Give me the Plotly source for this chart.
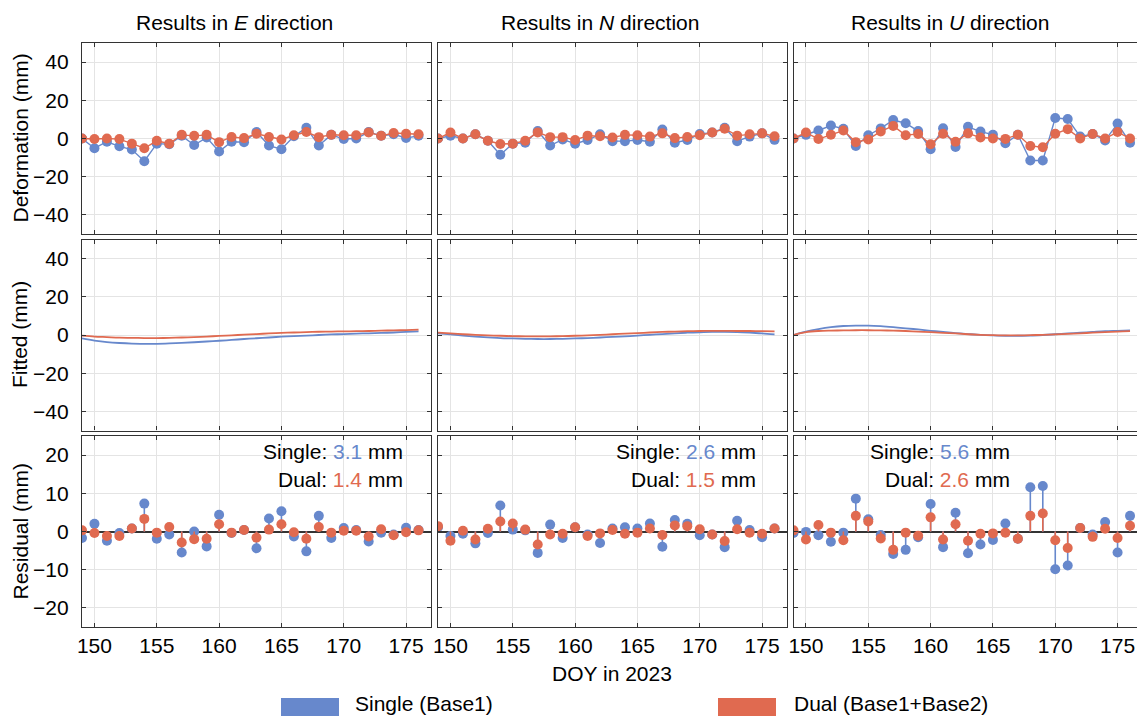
import plotly.graph_objects as go

# ---------------- data ----------------
DOY = [149, 150, 151, 152, 153, 154, 155, 156, 157, 158, 159, 160, 161, 162,
       163, 164, 165, 166, 167, 168, 169, 170, 171, 172, 173, 174, 175, 176]

DIRECTIONS = ["E", "N", "U"]
SERIES_NAMES = ["Single (Base1)", "Dual (Base1+Base2)"]

E_def_single = [0.0, -5.1, -1.7, -4.1, -5.8, -11.9, -2.7, -3.0, 1.4, -3.4, 0.5, -6.8, -1.7, -1.9,
                3.4, -3.7, -5.6, 1.2, 5.6, -3.7, 1.9, -0.3, 0.0, 3.4, 1.4, 2.2, 0.3, 1.4]
E_def_dual = [0.0, -0.3, 0.0, -0.3, -2.7, -5.1, -1.2, -2.7, 1.9, 1.4, 1.9, -1.9, 0.8, 0.2,
              2.5, 0.8, -0.5, 1.7, 3.4, 0.7, 2.0, 1.7, 1.7, 3.2, 1.4, 2.9, 2.5, 2.2]
N_def_single = [0.0, 1.4, 0.0, 2.2, -1.2, -8.5, -2.7, -2.2, 3.9, -3.7, -0.5, -2.7, -0.8, 2.2,
                -1.4, -1.4, -0.8, -1.7, 4.7, -2.2, -0.8, 2.4, 3.1, 5.6, -1.4, 1.0, 2.7, -0.7]
N_def_dual = [0.0, 3.1, 0.0, 2.2, -1.2, -2.9, -2.7, -1.2, 3.2, 0.7, 0.7, -0.8, 1.5, 1.2,
              0.5, 1.9, 1.7, 1.0, 2.7, 0.2, 0.8, 1.7, 3.1, 5.1, 1.5, 2.2, 2.7, 1.2]
U_def_single = [0.0, 1.9, 4.2, 6.8, 5.1, -3.9, 1.7, 5.3, 9.7, 8.0, 3.9, -5.6, 5.4, -4.4,
                6.1, 3.6, 2.0, -2.5, 2.0, -11.5, -11.5, 10.7, 10.2, 1.0, 2.4, -1.0, 7.8, -2.2]
U_def_dual = [0.0, 3.1, -0.3, 2.0, 4.2, -1.9, -0.5, 3.7, 6.6, 1.7, 2.4, -3.0, 2.5, -1.7,
              2.7, 0.5, 0.0, -0.2, 2.0, -3.9, -4.6, 2.5, 4.9, 0.0, 2.4, 0.0, 3.4, 0.0]

E_fit_single = [-1.8, -2.9, -3.7, -4.2, -4.5, -4.6, -4.6, -4.4, -4.1, -3.8, -3.4, -3.0, -2.6, -2.1,
                -1.7, -1.3, -0.9, -0.6, -0.3, 0.0, 0.3, 0.5, 0.7, 0.9, 1.1, 1.3, 1.6, 1.9]
E_fit_dual = [-0.3, -0.8, -1.1, -1.4, -1.5, -1.6, -1.6, -1.5, -1.3, -1.1, -0.8, -0.5, -0.2, 0.2,
              0.5, 0.8, 1.1, 1.3, 1.5, 1.7, 1.8, 1.9, 2.0, 2.1, 2.3, 2.4, 2.6, 2.8]
N_fit_single = [0.9, 0.3, -0.3, -0.8, -1.2, -1.6, -1.8, -2.0, -2.1, -2.1, -2.0, -1.8, -1.6, -1.3,
                -1.0, -0.7, -0.3, 0.1, 0.5, 0.9, 1.2, 1.4, 1.6, 1.6, 1.5, 1.2, 0.8, 0.3]
N_fit_dual = [1.2, 0.8, 0.4, 0.1, -0.2, -0.4, -0.6, -0.7, -0.7, -0.7, -0.6, -0.4, -0.2, 0.1,
              0.4, 0.7, 1.0, 1.3, 1.6, 1.8, 2.0, 2.1, 2.2, 2.2, 2.1, 2.1, 2.0, 1.9]
U_fit_single = [0.0, 1.8, 3.1, 4.1, 4.7, 4.9, 4.9, 4.6, 4.1, 3.5, 2.9, 2.2, 1.6, 1.0,
                0.5, 0.1, -0.2, -0.4, -0.4, -0.3, 0.0, 0.4, 0.8, 1.2, 1.6, 2.0, 2.2, 2.4]
U_fit_dual = [0.0, 1.5, 2.1, 2.3, 2.4, 2.5, 2.5, 2.4, 2.3, 2.1, 1.8, 1.5, 1.1, 0.8,
              0.4, 0.1, -0.1, -0.2, -0.2, -0.1, 0.1, 0.3, 0.6, 0.9, 1.2, 1.5, 1.8, 2.0]

E_res_single = [-1.7, 2.0, -2.4, -0.4, 0.8, 7.3, -1.9, -0.8, -5.5, 0.0, -3.9, 4.4, -0.4, 0.4,
                -4.4, 3.4, 5.3, -1.3, -5.2, 4.1, -1.7, 0.9, 0.4, -2.6, -0.3, -0.8, 1.0, 0.4]
E_res_dual = [0.3, -0.4, -1.2, -1.2, 0.8, 3.3, -0.3, 1.2, -2.9, -2.0, -1.9, 1.9, -0.3, 0.4,
              -1.6, 0.5, 1.9, -0.2, -1.9, 1.2, -0.3, 0.2, 0.2, -1.3, 0.6, -1.0, -0.2, 0.3]
N_res_single = [1.1, -1.2, -0.6, -3.1, -0.4, 6.8, 0.5, 0.3, -5.6, 1.8, -1.7, 1.1, -0.8, -3.0,
                0.8, 1.1, 0.8, 2.1, -4.0, 3.0, 2.0, -1.0, -0.8, -4.1, 2.8, 0.4, -1.5, 0.8]
N_res_dual = [1.4, -2.4, 0.2, -2.1, 0.7, 2.6, 2.1, 0.5, -3.4, -0.8, -0.6, 1.1, -1.2, -0.5,
              0.4, -0.6, -0.3, 0.8, -0.9, 1.6, 1.4, 0.6, -0.8, -2.5, 0.6, -0.3, -0.6, 0.8]
U_res_single = [-0.4, -0.1, -1.0, -2.7, -0.3, 8.6, 3.2, -0.9, -5.9, -4.8, -1.5, 7.2, -4.1, 4.9,
                -5.7, -3.4, -2.2, 2.1, -1.9, 11.6, 11.9, -9.9, -8.9, 0.9, -0.8, 2.5, -5.5, 4.1]
U_res_dual = [0.3, -2.1, 1.7, -0.3, -2.3, 4.1, 2.6, -1.8, -4.8, -0.3, -1.1, 3.7, -2.1, 1.9,
              -2.4, -0.6, -0.5, -0.3, -1.9, 4.1, 4.7, -2.3, -4.3, 0.9, -1.4, 0.7, -1.7, 1.5]

RMS_single = [3.1, 2.6, 5.6]
RMS_dual = [1.4, 1.5, 2.6]

X_TICKS = [150, 155, 160, 165, 170, 175]
Y_TICKS_TOP = [-40, -20, 0, 20, 40]
Y_TICKS_RES = [-20, -10, 0, 10, 20]
ROW_TITLES = ["Deformation (mm)", "Fitted (mm)", "Residual (mm)"]

# ---------------- style ----------------
W, H = 1137, 716
BLUE = "#6788CC"
RED = "#E06A50"
FONT = "Liberation Sans, Arial, sans-serif"
FS = 21
SPINE = "#333333"
GRID = "#e4e4e4"

cols_px = [(82, 431), (438, 787), (793.5, 1137)]
rows_px = [(43, 234), (239.5, 430.5), (436, 627)]
px_per_day = (431 - 82) / 28.0
x_ranges = [[149, 177], [149, 177], [149, 149 + (1137 - 793.5) / px_per_day]]

deform = {"E": (E_def_single, E_def_dual), "N": (N_def_single, N_def_dual), "U": (U_def_single, U_def_dual)}
fitted = {"E": (E_fit_single, E_fit_dual), "N": (N_fit_single, N_fit_dual), "U": (U_fit_single, U_fit_dual)}
resid = {"E": (E_res_single, E_res_dual), "N": (N_res_single, N_res_dual), "U": (U_res_single, U_res_dual)}


def fx(px):
    return px / W


def fy(py):
    return 1 - py / H


fig = go.Figure()
layout = {}

for r in range(3):
    for c in range(3):
        k = r * 3 + c + 1
        xs = "" if k == 1 else str(k)
        xa, ya = "x" + xs, "y" + xs
        d = DIRECTIONS[c]
        layout["xaxis" + xs] = dict(
            domain=[fx(cols_px[c][0]), fx(cols_px[c][1])], anchor=ya,
            range=x_ranges[c], tickvals=X_TICKS, showticklabels=(r == 2),
            ticks="inside", ticklen=4, tickcolor=SPINE, tickwidth=1.2,
            showline=True, linecolor=SPINE, linewidth=1.3, mirror="ticks",
            showgrid=True, gridcolor=GRID, gridwidth=1, zeroline=False,
            tickfont=dict(family=FONT, size=FS, color="black"),
            ticklabelstandoff=0,
        )
        if r < 2:
            yr, yt = [-50, 50], Y_TICKS_TOP
        else:
            yr, yt = [-25, 25], Y_TICKS_RES
        layout["yaxis" + xs] = dict(
            domain=[fy(rows_px[r][1]), fy(rows_px[r][0])], anchor=xa,
            range=yr, tickvals=yt, showticklabels=(c == 0),
            ticks="inside", ticklen=4, tickcolor=SPINE, tickwidth=1.2,
            showline=True, linecolor=SPINE, linewidth=1.3,
            mirror=("ticks" if c < 2 else False),
            showgrid=True, gridcolor=GRID, gridwidth=1,
            zeroline=(r == 2), zerolinecolor="#333333", zerolinewidth=1.6,
            tickfont=dict(family=FONT, size=FS, color="black"),
            ticklabelstandoff=8,
        )

        if r == 0:
            for s, col in ((0, BLUE), (1, RED)):
                fig.add_trace(go.Scatter(
                    x=DOY, y=deform[d][s], mode="lines+markers", xaxis=xa, yaxis=ya,
                    line=dict(color=col, width=1.4), marker=dict(color=col, size=10),
                    showlegend=False, hoverinfo="x+y"))
        elif r == 1:
            for s, col in ((0, BLUE), (1, RED)):
                fig.add_trace(go.Scatter(
                    x=DOY, y=fitted[d][s], mode="lines", xaxis=xa, yaxis=ya,
                    line=dict(color=col, width=1.8, shape="spline", smoothing=1.0),
                    showlegend=False, hoverinfo="x+y"))
        else:
            for s, col in ((0, BLUE), (1, RED)):
                vals = resid[d][s]
                sx, sy = [], []
                for xv, yv in zip(DOY, vals):
                    sx += [xv, xv, None]
                    sy += [0, yv, None]
                fig.add_trace(go.Scatter(
                    x=sx, y=sy, mode="lines", xaxis=xa, yaxis=ya,
                    line=dict(color=col, width=1.6), showlegend=False, hoverinfo="skip"))
                fig.add_trace(go.Scatter(
                    x=DOY, y=vals, mode="markers", xaxis=xa, yaxis=ya,
                    marker=dict(color=col, size=10), showlegend=False, hoverinfo="x+y"))

annotations = []
title_centers = [234.5, 600, 950]
for c, d in enumerate(DIRECTIONS):
    annotations.append(dict(
        x=fx(title_centers[c]), y=fy(22), xref="paper", yref="paper",
        text="Results in <i>%s</i> direction" % d, showarrow=False,
        xanchor="center", yanchor="middle", font=dict(family=FONT, size=FS, color="black")))

for r in range(3):
    annotations.append(dict(
        x=fx(20), y=fy((rows_px[r][0] + rows_px[r][1]) / 2), xref="paper", yref="paper",
        text=ROW_TITLES[r], textangle=-90, showarrow=False,
        xanchor="center", yanchor="middle", font=dict(family=FONT, size=FS, color="black")))

annotations.append(dict(
    x=fx(612), y=fy(673), xref="paper", yref="paper", text="DOY in 2023",
    showarrow=False, xanchor="center", yanchor="middle",
    font=dict(family=FONT, size=FS, color="black")))

stat_right = [405, 758, 1012]
for c in range(3):
    annotations.append(dict(
        x=fx(stat_right[c]), y=fy(451), xref="paper", yref="paper",
        text="Single: <span style='color:%s'>%.1f</span> mm" % (BLUE, RMS_single[c]),
        showarrow=False, xanchor="right", yanchor="middle",
        font=dict(family=FONT, size=FS, color="black")))
    annotations.append(dict(
        x=fx(stat_right[c]), y=fy(480), xref="paper", yref="paper",
        text="Dual: <span style='color:%s'>%.1f</span> mm" % (RED, RMS_dual[c]),
        showarrow=False, xanchor="right", yanchor="middle",
        font=dict(family=FONT, size=FS, color="black")))

shapes = []
legend_items = [(281, 339, 353, BLUE, SERIES_NAMES[0]), (718, 776, 792, RED, SERIES_NAMES[1])]
for x0, x1, tx, col, name in legend_items:
    shapes.append(dict(type="rect", xref="paper", yref="paper",
                       x0=fx(x0), x1=fx(x1), y0=fy(698), y1=fy(725),
                       fillcolor=col, line=dict(width=0)))
    annotations.append(dict(
        x=fx(tx), y=fy(703), xref="paper", yref="paper", text=name,
        showarrow=False, xanchor="left", yanchor="middle",
        font=dict(family=FONT, size=FS, color="black")))

fig.update_layout(
    width=W, height=H, margin=dict(l=0, r=0, t=0, b=0, autoexpand=False),
    paper_bgcolor="white", plot_bgcolor="white",
    annotations=annotations, shapes=shapes, showlegend=False,
    font=dict(family=FONT, size=FS, color="black"),
    **layout)

fig.write_html("out.html")
